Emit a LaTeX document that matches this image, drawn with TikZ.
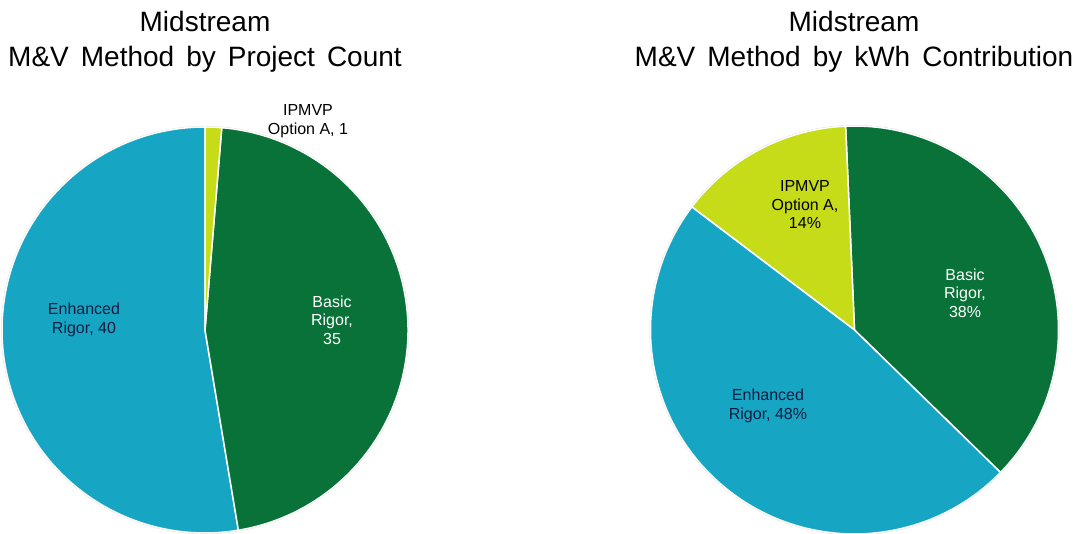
\documentclass[tikz,border=0pt]{standalone}
\usepackage{fontspec}
\setmainfont{Liberation Sans}
\definecolor{pieblue}{RGB}{22,166,196}
\definecolor{piegreen}{RGB}{8,114,56}
\definecolor{pielime}{RGB}{198,220,24}
\definecolor{labelnavy}{RGB}{18,28,64}
\newcommand{\charttitlefont}{\fontsize{28}{35}\selectfont\spaceskip 12pt\relax}
\begin{document}
\begin{tikzpicture}[x=1pt,y=1pt,
  slice/.style={draw=white,line width=1.5pt,line join=round},
  rim/.style={draw=black!18,line width=0.7pt},
  charttitle/.style={font=\charttitlefont,align=center,text=black},
  lbl/.style={font=\fontsize{16}{18.5}\selectfont,align=center,inner sep=0pt}]
\path[use as bounding box] (0,0) rectangle (1076,533);
% ---------- left pie ----------
\coordinate (L) at (205,203);
\draw[rim] (L) circle[radius=203.6];
\draw[slice,fill=pieblue] (L) -- ++(90:203) arc[start angle=90,end angle=279.47,radius=203] -- cycle;
\draw[slice,fill=piegreen] (L) -- ++(-80.53:203) arc[start angle=-80.53,end angle=85.26,radius=203] -- cycle;
\draw[slice,fill=pielime] (L) -- ++(85.26:203) arc[start angle=85.26,end angle=90,radius=203] -- cycle;
\node[charttitle] (t1) at (205,491) {Midstream\\M\&V Method by Project Count};
\node[lbl,text=black] (l1) at (308,412) {IPMVP\\Option A, 1};
\node[lbl,text=labelnavy] (l2) at (84,213) {Enhanced\\Rigor, 40};
\node[lbl,text=white] (l3) at (332,213) {Basic\\Rigor,\\35};
% ---------- right pie ----------
\coordinate (R) at (854.5,203);
\draw[rim] (R) circle[radius=204.6];
\draw[slice,fill=piegreen] (R) -- ++(-44.3:204) arc[start angle=-44.3,end angle=92.5,radius=204] -- cycle;
\draw[slice,fill=pielime] (R) -- ++(92.5:204) arc[start angle=92.5,end angle=142.9,radius=204] -- cycle;
\draw[slice,fill=pieblue] (R) -- ++(142.9:204) arc[start angle=142.9,end angle=315.7,radius=204] -- cycle;
\node[charttitle] (t2) at (854,491) {Midstream\\M\&V Method by kWh Contribution};
\node[lbl,text=black] (r1) at (805,328) {IPMVP\\Option A,\\14\%};
\node[lbl,text=white] (r2) at (965,240) {Basic\\Rigor,\\38\%};
\node[lbl,text=labelnavy] (r3) at (768,127) {Enhanced\\Rigor, 48\%};
\end{tikzpicture}
\end{document}
